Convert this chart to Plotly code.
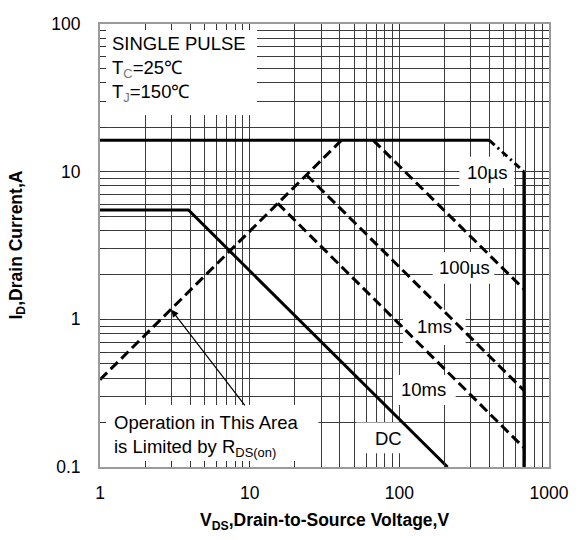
import numpy as np
import plotly.graph_objects as go

# Safe operating area data (V_DS in volts, I_D in amps)
limit_v = [1, 400]            # package / current limit
limit_i = [16.3, 16.3]
rdson_v = [1, 41]             # R_DS(on) limited region
rdson_i = [0.39, 16.3]
p10us_v = [400, 680]
p10us_i = [16.3, 10.0]
p100us_v = [67, 680]
p100us_i = [16.3, 1.6]
p1ms_v = [24, 680]
p1ms_i = [9.5, 0.33]
p10ms_v = [15.4, 680]
p10ms_i = [6.1, 0.135]
dc_v = [1, 3.9, 210]
dc_i = [5.5, 5.5, 0.1]
bv_v = [680, 680]             # breakdown voltage limit
bv_i = [10.0, 0.1]

x_tickvals = [1, 10, 100, 1000]
x_ticktext = ["1", "10", "100", "1000"]
y_tickvals = [0.1, 1, 10, 100]
y_ticktext = ["0.1", "1", "10", "100"]

# Curve labels: text, V, I
curve_labels = [
    ("10µs", 387, 9.9),
    ("100µs", 272, 2.23),
    ("1ms", 172, 0.89),
    ("10ms", 146, 0.333),
    ("DC", 85, 0.157),
]

FONT = "Arial, Liberation Sans, sans-serif"
X_RANGE = (0.0, 3.0)
Y_RANGE = (-1.0, 2.0)
TEXT_SIZE = 18.5

fig = go.Figure()

# White panels behind the text blocks hide the grid there (drawn first,
# so the curves stay on top of them)
label_boxes = [
    (1, 11.2, 24.2, 100),       # conditions block
    (1, 28.8, 0.1, 0.263),      # R_DS(on) note
    (51.5, 102, 0.124, 0.2),    # DC
    (90.7, 238, 0.263, 0.42),   # 10ms
    (105.7, 277, 0.671, 1.16),  # 1ms
    (167, 431, 1.74, 2.86),     # 100µs
    (252, 585, 7.76, 12.6),     # 10µs
]
for x0, x1, y0, y1 in label_boxes:
    fig.add_trace(go.Scatter(
        x=[x0, x1, x1, x0, x0], y=[y0, y0, y1, y1, y0], mode="lines",
        fill="toself", fillcolor="white", line=dict(width=0, color="white"),
        hoverinfo="skip",
    ))

solid = dict(color="black", width=3)
dashed = dict(color="black", width=3, dash="10px,5px")

fig.add_trace(go.Scatter(x=limit_v, y=limit_i, mode="lines", line=solid))
fig.add_trace(go.Scatter(x=rdson_v, y=rdson_i, mode="lines", line=dashed))
fig.add_trace(go.Scatter(x=p10us_v, y=p10us_i, mode="lines",
                         line=dict(color="black", width=3, dash="7px,4px,2px,4px")))
fig.add_trace(go.Scatter(x=p100us_v, y=p100us_i, mode="lines", line=dashed))
fig.add_trace(go.Scatter(x=p1ms_v, y=p1ms_i, mode="lines", line=dashed))
fig.add_trace(go.Scatter(x=p10ms_v, y=p10ms_i, mode="lines", line=dashed))
fig.add_trace(go.Scatter(x=dc_v, y=dc_i, mode="lines", line=solid))
fig.add_trace(go.Scatter(x=bv_v, y=bv_i, mode="lines", line=solid))

for text, v, i in curve_labels:
    fig.add_annotation(x=np.log10(v), y=np.log10(i), text=text, showarrow=False,
                       font=dict(family=FONT, size=TEXT_SIZE, color="black"))

fig.add_annotation(
    x=np.log10(1.16), y=1.95, xanchor="left", yanchor="top", align="left",
    showarrow=False,
    text=("SINGLE PULSE<br>T<sub><span style='color:#777'>C</span></sub>=25℃"
          "<br>T<sub><span style='color:#777'>J</span></sub>=150℃"),
    font=dict(family=FONT, size=TEXT_SIZE, color="black"),
)

fig.add_annotation(
    x=np.log10(1.2), y=-0.615, xanchor="left", yanchor="top", align="left",
    showarrow=False,
    text="Operation in This Area<br>is Limited by R<sub>DS(on)</sub>",
    font=dict(family=FONT, size=TEXT_SIZE, color="black"),
)

# Pointer from the note to the R_DS(on) line
fig.add_annotation(
    x=np.log10(3.0), y=np.log10(1.16), ax=np.log10(9.45), ay=np.log10(0.255),
    xref="x", yref="y", axref="x", ayref="y", text="",
    showarrow=True, arrowhead=2, arrowsize=1.2, arrowwidth=1.2, arrowcolor="black",
)

# Axis titles
fig.add_annotation(
    xref="paper", yref="paper", x=0.5, y=0, yshift=-54, yanchor="middle",
    showarrow=False, text="<b>V<sub>DS</sub>,Drain-to-Source Voltage,V</b>",
    font=dict(family=FONT, size=17.5, color="black"),
)
fig.add_annotation(
    xref="paper", yref="paper", x=0, y=0.5, xshift=-83, xanchor="center",
    textangle=-90, showarrow=False, text="<b>I<sub>D</sub>,Drain Current,A</b>",
    font=dict(family=FONT, size=17.5, color="black"),
)

minor_x = [m * 10 ** e for e in range(0, 3) for m in range(2, 10)]
minor_y = [m * 10 ** e for e in range(-1, 2) for m in range(2, 10)]

GRID = "#3c3c3c"
axis_common = dict(
    type="log", showline=True, linecolor="#9a9a9a", linewidth=2, mirror="allticks",
    ticks="inside", ticklen=6, tickcolor="#333", tickwidth=1,
    showgrid=True, gridcolor=GRID, gridwidth=1, zeroline=False,
    tickfont=dict(family=FONT, size=17.5, color="black"),
)

fig.update_xaxes(
    range=list(X_RANGE), tickmode="array", tickvals=x_tickvals, ticktext=x_ticktext,
    ticklabelstandoff=9,
    minor=dict(tickmode="array", tickvals=minor_x, ticks="inside", ticklen=6,
               tickcolor="#333", showgrid=True, gridcolor=GRID, gridwidth=1),
    **axis_common,
)
fig.update_yaxes(
    range=list(Y_RANGE), tickmode="array", tickvals=y_tickvals, ticktext=y_ticktext,
    ticklabelstandoff=14,
    minor=dict(tickmode="array", tickvals=minor_y, ticks="inside", ticklen=6,
               tickcolor="#333", showgrid=True, gridcolor=GRID, gridwidth=1),
    **axis_common,
)

fig.update_layout(
    width=581, height=540,
    margin=dict(l=100, r=29, t=24, b=73),
    paper_bgcolor="white", plot_bgcolor="white",
    showlegend=False,
    font=dict(family=FONT, color="black"),
)

fig.write_html("out.html")
